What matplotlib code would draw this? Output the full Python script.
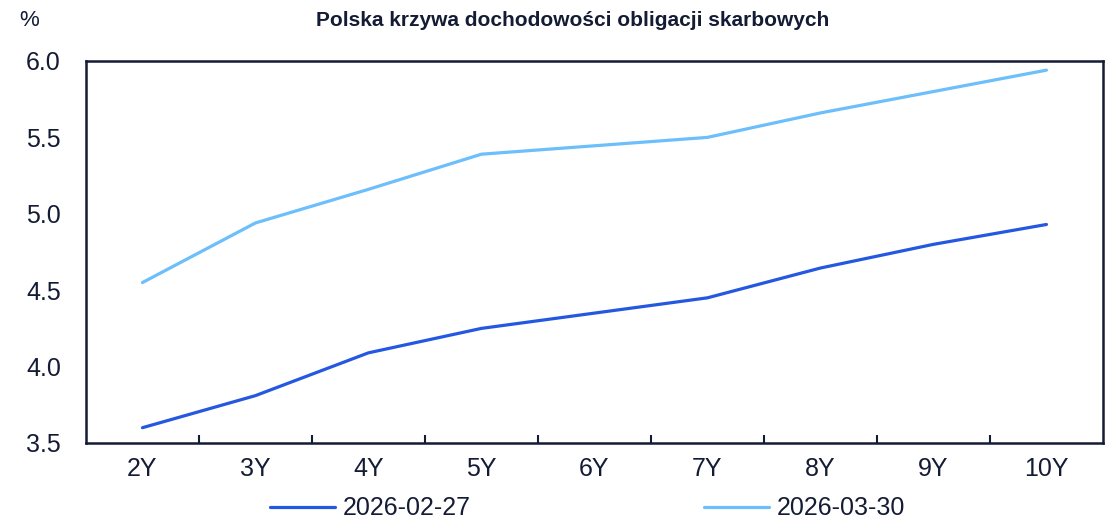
import matplotlib
matplotlib.use('Agg')
import matplotlib.pyplot as plt

plt.rcParams['font.family'] = ['Liberation Sans', 'DejaVu Sans']

tenors = ['2Y', '3Y', '4Y', '5Y', '6Y', '7Y', '8Y', '9Y', '10Y']
# 6Y has no quote, the lines jump from 5Y to 7Y
yld_0227 = [3.60, 3.81, 4.09, 4.25, None, 4.45, 4.645, 4.80, 4.93]
yld_0330 = [4.55, 4.94, 5.16, 5.39, None, 5.50, 5.66, 5.80, 5.94]
labels = ['2026-02-27', '2026-03-30']
colors = ['#2458E0', '#6DBFFB']
navy = '#141B34'

fig = plt.figure(figsize=(11.15, 5.23), dpi=100)
ax = fig.add_axes([0.0771, 0.153, 0.9121, 0.7304])

for vals, lab, col in zip([yld_0227, yld_0330], labels, colors):
    xs = [i for i, v in enumerate(vals) if v is not None]
    ys = [v for v in vals if v is not None]
    ax.plot(xs, ys, color=col, lw=2.3, label=lab, solid_capstyle='round')

ax.set_xlim(-0.5, len(tenors) - 0.5)
ax.set_ylim(3.5, 6.0)
ax.set_yticks([3.5, 4.0, 4.5, 5.0, 5.5, 6.0])
ax.set_yticklabels(['3.5', '4.0', '4.5', '5.0', '5.5', '6.0'])
ax.set_xticks(range(len(tenors)))
ax.set_xticklabels(tenors)
ax.set_xticks([i + 0.5 for i in range(len(tenors) - 1)], minor=True)
ax.tick_params(axis='x', which='major', length=0, pad=10, labelsize=18, colors=navy)
ax.tick_params(axis='x', which='minor', length=6, width=1.5, direction='in', color=navy)
ax.tick_params(axis='y', length=0, pad=18, labelsize=18, colors=navy)
for s in ax.spines.values():
    s.set_color(navy)
    s.set_linewidth(1.8)

fig.text(0.017, 0.96, '%', fontsize=16, color=navy, ha='left', va='center')
fig.text(0.514, 0.96, 'Polska krzywa dochodowości obligacji skarbowych', fontsize=15,
         fontweight='bold', color=navy, ha='center', va='center')

fig.legend(loc='center', bbox_to_anchor=(0.527, 0.028), ncol=2, frameon=False,
           fontsize=18, handlelength=2.6, columnspacing=9.3, handletextpad=0.32,
           labelcolor=navy)

fig.savefig('out.png', dpi=100)
